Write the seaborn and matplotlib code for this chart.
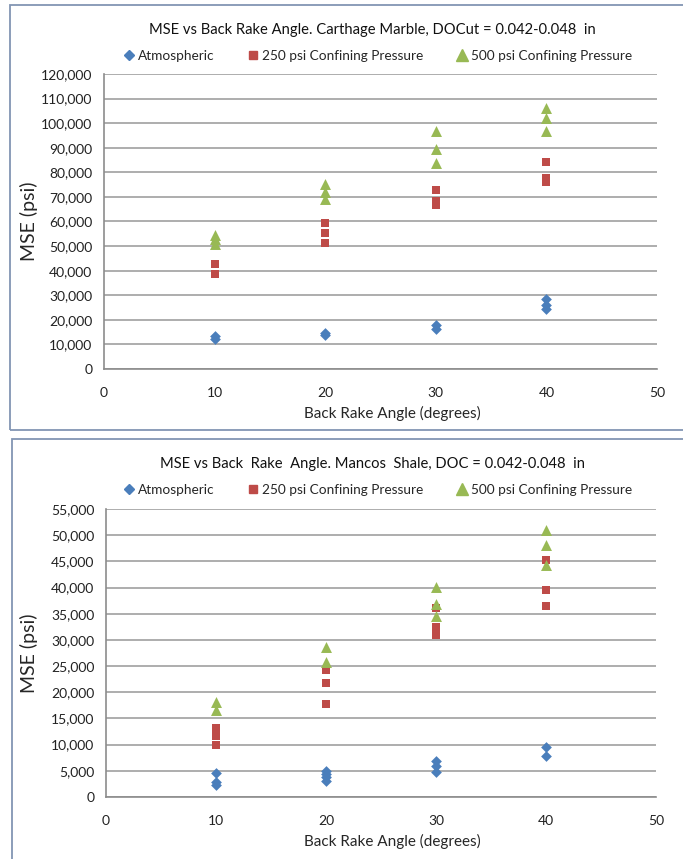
import matplotlib
matplotlib.use("Agg")
import matplotlib.pyplot as plt
import seaborn as sns
import pandas as pd
from matplotlib.patches import Rectangle
from matplotlib.ticker import FuncFormatter, MultipleLocator
from matplotlib.lines import Line2D

sns.set_style("white")
plt.rcParams['font.family'] = ['Lato', 'DejaVu Sans']

series_names = ["Atmospheric", "250 psi Confining Pressure", "500 psi Confining Pressure"]

# Carthage Marble
marble_atm_x = [10, 10, 20, 20, 30, 30, 40, 40, 40]
marble_atm_y = [13600, 12300, 14500, 14000, 17700, 16100, 28300, 26100, 24500]
marble_250_x = [10, 10, 20, 20, 20, 30, 30, 30, 40, 40, 40]
marble_250_y = [42600, 38700, 59300, 55200, 51200, 72800, 68200, 66600, 84200, 77500, 75900]
marble_500_x = [10, 10, 10, 20, 20, 20, 30, 30, 30, 40, 40, 40]
marble_500_y = [54500, 52700, 51000, 75400, 72000, 69300, 97000, 89300, 83700, 106000, 102300, 97000]

# Mancos Shale
shale_atm_x = [10, 10, 10, 20, 20, 20, 20, 30, 30, 30, 40, 40]
shale_atm_y = [4600, 2800, 2200, 5000, 4400, 3800, 3100, 6800, 5900, 4800, 9600, 7900]
shale_250_x = [10, 10, 10, 20, 20, 20, 30, 30, 30, 40, 40, 40]
shale_250_y = [13100, 11700, 10000, 24200, 21800, 17800, 36000, 32500, 30900, 45300, 39500, 36500]
shale_500_x = [10, 10, 20, 20, 30, 30, 30, 40, 40, 40]
shale_500_y = [18100, 16600, 28700, 25800, 40100, 36800, 34500, 51000, 48100, 44300]

titles = ["MSE vs Back Rake Angle. Carthage Marble, DOCut = 0.042-0.048  in",
          "MSE vs Back  Rake  Angle. Mancos  Shale, DOC = 0.042-0.048  in"]
x_label = "Back Rake Angle (degrees)"
y_label = "MSE (psi)"
x_ticks = [0, 10, 20, 30, 40, 50]

colors = {"Atmospheric": "#4a7ebb", "250 psi Confining Pressure": "#be4b48",
          "500 psi Confining Pressure": "#98b954"}
markers = {"Atmospheric": "D", "250 psi Confining Pressure": "s",
           "500 psi Confining Pressure": "^"}
sizes = {"Atmospheric": 30, "250 psi Confining Pressure": 32, "500 psi Confining Pressure": 62}


def make_df(xs, ys):
    rows = []
    for name, x, y in zip(series_names, xs, ys):
        for a, b in zip(x, y):
            rows.append({"angle": a, "mse": b, "series": name})
    return pd.DataFrame(rows)


df_marble = make_df([marble_atm_x, marble_250_x, marble_500_x],
                    [marble_atm_y, marble_250_y, marble_500_y])
df_shale = make_df([shale_atm_x, shale_250_x, shale_500_x],
                   [shale_atm_y, shale_250_y, shale_500_y])

fig = plt.figure(figsize=(6.83, 8.59), dpi=100)
W, H = 683, 859

border_color = "#8295b3"
fig.patches.append(Rectangle((10 / W, 1 - 430 / H), 700 / W, (430 - 5) / H,
                             transform=fig.transFigure, fill=False,
                             edgecolor=border_color, linewidth=1.3))
fig.patches.append(Rectangle((12 / W, 1 - 870 / H), 700 / W, (870 - 439) / H,
                             transform=fig.transFigure, fill=False,
                             edgecolor=border_color, linewidth=1.3))

# (df, axes box, ymax, ystep, title, title y, title x, legend y, legend marker x list, xlabel top)
panels = [
    (df_marble, (104, 74, 657, 369), 120000, 10000, titles[0], 30, 372, 56, 406),
    (df_shale, (106, 509, 656, 797), 55000, 5000, titles[1], 464, 372, 490, 834),
]

grid_color = "#a0a0a0"
axis_color = "#8c8c8c"

for df, (l, t, r, b), ymax, ystep, title, ty, tx, ly, xlt in panels:
    ax = fig.add_axes([l / W, 1 - b / H, (r - l) / W, (b - t) / H])
    for name in series_names:
        sub = df[df["series"] == name]
        sns.scatterplot(data=sub, x="angle", y="mse", ax=ax, color=colors[name],
                        marker=markers[name], s=sizes[name], linewidth=0,
                        legend=False, zorder=3)
    ax.set_xlim(0, 50)
    ax.set_ylim(0, ymax)
    ax.set_xticks(x_ticks)
    ax.yaxis.set_major_locator(MultipleLocator(ystep))
    ax.yaxis.set_major_formatter(FuncFormatter(lambda v, p: f"{int(v):,}"))
    ax.grid(axis="y", color=grid_color, linewidth=1.2)
    ax.grid(axis="x", visible=False)
    ax.set_axisbelow(True)
    for s in ["top", "right"]:
        ax.spines[s].set_visible(False)
    for s in ["left", "bottom"]:
        ax.spines[s].set_color(axis_color)
        ax.spines[s].set_linewidth(1.2)
    ax.tick_params(axis="both", which="both", direction="out", length=5,
                   color=axis_color, labelsize=10, labelcolor="#222222")
    ax.tick_params(axis="x", pad=8)
    ax.set_xlabel(x_label, fontsize=11)
    ax.xaxis.set_label_coords((392 - l) / (r - l), -(xlt - b) / (b - t))
    ax.set_ylabel(y_label, fontsize=14)
    ax.yaxis.set_label_coords(-(l - 38) / (r - l), 0.5)
    fig.text(tx / W, 1 - ty / H, title, ha="center", va="center",
             fontsize=10.6, color="#111111")
    handles = [Line2D([], [], linestyle="none", marker=markers[n], color=colors[n],
                      markersize=5.5 if n != "500 psi Confining Pressure" else 8)
               for n in series_names]
    fig.legend(handles, series_names, loc="center", ncol=3, frameon=False,
               bbox_to_anchor=(377 / W, 1 - ly / H),
               fontsize=9.8, handletextpad=0.2, columnspacing=2.3,
               handlelength=1.0)

fig.savefig("out.png", dpi=100)
